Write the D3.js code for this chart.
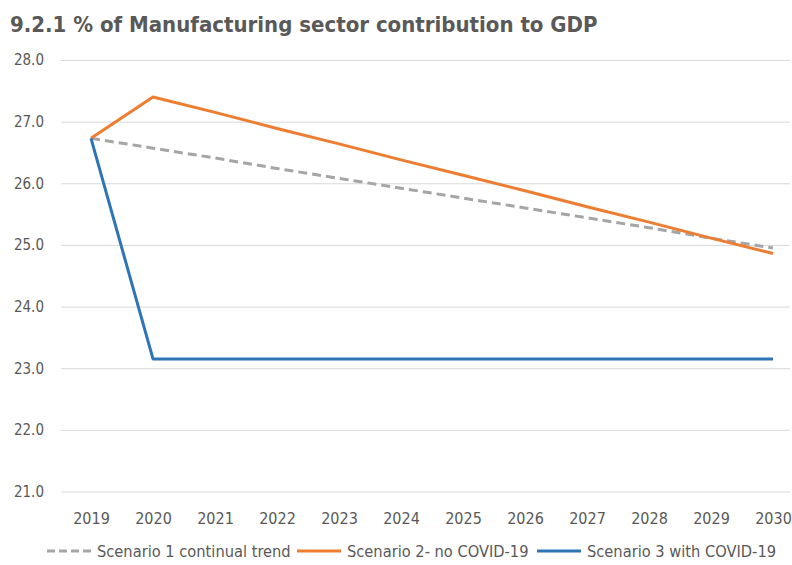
<!DOCTYPE html>
<html>
<head>
<meta charset="utf-8">
<script src="https://cdn.jsdelivr.net/npm/d3@7"></script>
<style>
  body { margin: 0; background: #fff; }
  text { font-family: "Liberation Sans Narrow", "DejaVu Sans Condensed", sans-serif; fill: #595959; }
</style>
</head>
<body>
<script>
// chart values
var years = [2019, 2020, 2021, 2022, 2023, 2024, 2025, 2026, 2027, 2028, 2029, 2030];
var scenario1 = [26.73, 26.57, 26.41, 26.24, 26.08, 25.92, 25.76, 25.60, 25.44, 25.28, 25.11, 24.95];
var scenario2 = [26.73, 27.40, 27.15, 26.89, 26.64, 26.38, 26.13, 25.88, 25.62, 25.37, 25.11, 24.86];
var scenario3 = [26.73, 23.15, 23.15, 23.15, 23.15, 23.15, 23.15, 23.15, 23.15, 23.15, 23.15, 23.15];
var yTicks = [21, 22, 23, 24, 25, 26, 27, 28];
var seriesNames = ["Scenario 1 continual trend", "Scenario 2- no COVID-19", "Scenario 3 with COVID-19"];

var width = 792;
var height = 565;

var series = [
    { name: seriesNames[0], values: scenario1, color: "#A5A5A5", dash: "9,5" },
    { name: seriesNames[1], values: scenario2, color: "#ED7D31", dash: null },
    { name: seriesNames[2], values: scenario3, color: "#2E75B6", dash: null }
];

var xscale = d3.scalePoint().domain(years).range([91, 773]);
var yscale = d3.scaleLinear().domain([21, 28]).range([491.5, 60]);

var svg = d3.select("body").append("svg").attr("width", width).attr("height", height);

svg.append("text")
    .attr("x", 10).attr("y", 32)
    .style("font-size", "22px").style("font-weight", "bold")
    .text("9.2.1 % of Manufacturing sector contribution to GDP");

// gridlines + y labels
var yaxis = d3.axisLeft(yscale).tickValues(yTicks).tickFormat(d3.format(".1f"))
    .tickSize(-(790 - 61)).tickPadding(17);
var gy = svg.append("g").attr("transform", "translate(61,0)").call(yaxis);
gy.select(".domain").remove();
gy.selectAll("line").attr("stroke", "#D9D9D9").attr("stroke-width", 1);
gy.selectAll("text").style("font-size", "15px").attr("fill", "#595959");

var xaxis = d3.axisBottom(xscale).tickSize(0).tickPadding(0);
var gx = svg.append("g").attr("transform", "translate(0,524)").call(xaxis);
gx.select(".domain").remove();
gx.selectAll("text").style("font-size", "16px").attr("fill", "#595959").attr("dy", 0);

var line = d3.line()
    .x(function (d, i) { return xscale(years[i]); })
    .y(function (d) { return yscale(d); });

svg.selectAll(".series").data(series).enter().append("path")
    .attr("class", "series")
    .attr("d", function (d) { return line(d.values); })
    .attr("fill", "none")
    .attr("stroke", function (d) { return d.color; })
    .attr("stroke-width", 3)
    .attr("stroke-dasharray", function (d) { return d.dash; })
    .attr("stroke-linejoin", "round");

// legend
var legendX = [47, 297, 537];
var lg = svg.selectAll(".legend").data(series).enter().append("g")
    .attr("class", "legend")
    .attr("transform", function (d, i) { return "translate(" + legendX[i] + ",551)"; });
lg.append("line")
    .attr("x1", 0).attr("x2", 44).attr("y1", 0).attr("y2", 0)
    .attr("stroke", function (d) { return d.color; })
    .attr("stroke-width", 3)
    .attr("stroke-dasharray", function (d) { return d.dash ? "8,4" : null; });
lg.append("text")
    .attr("x", 50).attr("y", 5.5)
    .style("font-size", "16.3px")
    .text(function (d) { return d.name; });
</script>
</body>
</html>
